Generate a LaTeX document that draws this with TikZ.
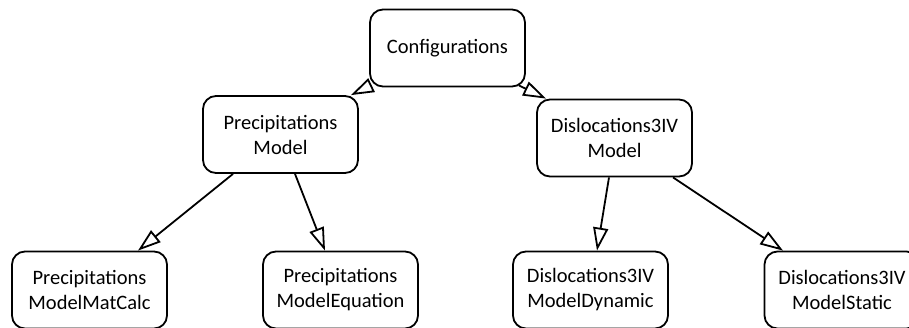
\documentclass[tikz,border=0pt]{standalone}
\usepackage{fontspec}
\setmainfont{Carlito}
\usetikzlibrary{arrows.meta,positioning,shapes}

\begin{document}
\begin{tikzpicture}[x=1pt, y=-1pt,
  box/.style={draw, line width=1.8pt, rounded corners=13pt, minimum width=155pt, minimum height=77pt, inner sep=0pt, align=center, font=\fontsize{20.5}{25}\selectfont},
  link/.style={line width=1.8pt, -{Triangle[open, length=23pt, width=15pt, line width=1.8pt]}}]
\useasboundingbox (0, 0) rectangle (909, 327);

\node[box] (conf) at (447.5, 48) {Configurations};
\node[box] (pm) at (280.5, 134.5) {Precipitations\\Model};
\node[box] (dm) at (614.5, 138) {Dislocations3IV\\Model};
\node[box] (pmc) at (89.5, 290) {Precipitations\\ModelMatCalc};
\node[box] (pme) at (340.5, 290) {Precipitations\\ModelEquation};
\node[box] (dmd) at (590.5, 290) {Dislocations3IV\\ModelDynamic};
\node[box] (dms) at (842, 290) {Dislocations3IV\\ModelStatic};

\draw[link] ([xshift=2pt, yshift=2pt]conf.south west) -- ([xshift=-8pt]pm.north east);
\draw[link] ([xshift=-7pt, yshift=2pt]conf.south east) -- ([xshift=10pt]dm.north west);
\draw[link] ([xshift=-47.5pt]pm.south) -- ([xshift=48.5pt]pmc.north);
\draw[link] ([xshift=14.5pt]pm.south) -- ([xshift=-15.5pt]pme.north);
\draw[link] ([xshift=-5.5pt]dm.south) -- ([xshift=6.5pt]dmd.north);
\draw[link] ([xshift=58.5pt]dm.south) -- ([xshift=-59pt]dms.north);
\end{tikzpicture}
\end{document}
